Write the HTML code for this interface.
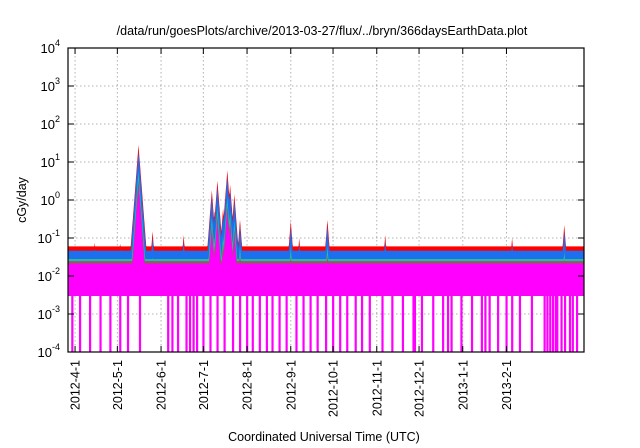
<!DOCTYPE html>
<html><head><meta charset="utf-8"><style>
html,body{margin:0;padding:0;background:#fff;}
svg{display:block;font-family:"Liberation Sans",sans-serif;}
</style></head><body>
<svg id="chart" width="640" height="448" viewBox="0 0 640 448" xmlns="http://www.w3.org/2000/svg">
<text x="322" y="35" font-size="12.5" text-anchor="middle">/data/run/goesPlots/archive/2013-03-27/flux/../bryn/366daysEarthData.plot</text>
<text x="324" y="441" font-size="12.5" text-anchor="middle">Coordinated Universal Time (UTC)</text>
<text transform="translate(26,200) rotate(-90)" font-size="12.5" text-anchor="middle">cGy/day</text>
<g id="grid"></g>
<g id="series"></g>
<g id="axes"></g>
</svg>
<script>
// data
const monthLabels = ["2012-4-1","2012-5-1","2012-6-1","2012-7-1","2012-8-1","2012-9-1","2012-10-1","2012-11-1","2012-12-1","2013-1-1","2013-2-1"];
const monthDays = [5,35,66,96,127,158,188,219,249,280,311];
const yExponents = [-4,-3,-2,-1,0,1,2,3,4];
const spikeDays = [19,37,50,60,82,102,104,106,110,113,115,118,122,158,164,184,225,315,352];
const spikePeaks = [0.075,0.07,28,0.15,0.12,1.8,0.5,3.2,0.6,6,2.5,1.4,0.3,0.28,0.1,0.3,0.12,0.1,0.22];
const baseRed = 0.06, baseBlue = 0.046, baseGreen = 0.028, baseMagenta = 0.021, magentaFloor = 0.003;
const dropoutDays = [3,8.5,15.6,23,30,37,42.5,51,71,74,78,84,86.5,89,91.5,96,101,106,111,117,122,127,131,136,141,145,150,155,162,167,172,177,183,188,193,198,204,208.5,214,223,230,237.5,245,246,251,259,266,269.5,272,279,286.5,293.5,296,299,305,311,315,320.5,329,338,340,342,344,346,347,350,352.5,356,358,361];
const totalDays = 366;

const X0=68,X1=584,YT=48,YB=352;
const NS="http://www.w3.org/2000/svg";
function xs(d){return X0+d*(X1-X0)/totalDays;}
function ys(v){const l=Math.log10(v);return YB-(l+4)*(YB-YT)/8;}
function mk(tag,attrs,parent){const e=document.createElementNS(NS,tag);for(const k in attrs)e.setAttribute(k,attrs[k]);parent.appendChild(e);return e;}
const grid=document.getElementById('grid'),ser=document.getElementById('series'),ax=document.getElementById('axes');

yExponents.forEach(e=>{
  const y=ys(Math.pow(10,e));
  if(e>-4&&e<4){const l=mk('line',{x1:X0,x2:X1,y1:y,y2:y,stroke:'#b0b0b0','stroke-dasharray':'1.5,2.5','stroke-width':1},grid);
  
  }
  const t=mk('text',{x:X0-8,y:y+5,'font-size':13,'text-anchor':'end'},ax);
  
  
  t.textContent='10';
  const s=mk('tspan',{dy:-7,'font-size':9},t);s.textContent=String(e);
  mk('line',{x1:X0,x2:X0+6,y1:y,y2:y,stroke:'#000'},ax);
  mk('line',{x1:X1,x2:X1-6,y1:y,y2:y,stroke:'#000'},ax);
});
monthDays.forEach((d,i)=>{
  const x=xs(d);
  const l=mk('line',{x1:x,x2:x,y1:YT,y2:YB,stroke:'#b0b0b0','stroke-dasharray':'1.5,2.5','stroke-width':1},grid);
  
  
  mk('line',{x1:x,x2:x,y1:YB,y2:YB-6,stroke:'#000'},ax);
  mk('line',{x1:x,x2:x,y1:YT,y2:YT+6,stroke:'#000'},ax);
  const t=mk('text',{x:0,y:0,'font-size':12.5,'text-anchor':'end',transform:`translate(${x+4.5},${YB+8}) rotate(-90)`},ax);
  
  
  t.textContent=monthLabels[i];
});

function val(d,base,scale){
  let v=base;
  spikeDays.forEach((sd,i)=>{
    const p=spikePeaks[i]*scale;
    const s=p*Math.exp(-Math.abs(d-sd)/0.9);
    if(s>v)v=s;
  });
  return v;
}
function area(base,scale,color,name){
  const floorY=ys(magentaFloor);
  const pts=[];
  for(let d=0;d<=totalDays;d+=0.25)pts.push(xs(d).toFixed(1)+','+ys(Math.max(val(d,base,scale),1e-4)).toFixed(1));
  pts.push(xs(totalDays).toFixed(1)+','+floorY.toFixed(1));
  pts.push(xs(0).toFixed(1)+','+floorY.toFixed(1));
  const p=mk('polygon',{points:pts.join(' '),fill:color},ser);
  
  
}
area(baseRed,1,'#ff0000','series-red');
area(baseBlue,0.7,'#1e6ff0','series-blue');
area(baseGreen,0.2,'#20c0a0','series-green');
area(baseGreen*0.88,0.12,'#a05070','series-brown');
area(baseMagenta,0.08,'#ff00ff','series-magenta');
const floorY=ys(magentaFloor);
dropoutDays.forEach(d=>{
  const r=mk('rect',{x:xs(d)-1,y:floorY,width:2.2,height:YB-floorY,fill:'#ff00ff'},ser);
  
  
});
const frame=mk('rect',{x:X0,y:YT,width:X1-X0,height:YB-YT,fill:'none',stroke:'#000','stroke-width':1.2},ax);


</script>
</body></html>
